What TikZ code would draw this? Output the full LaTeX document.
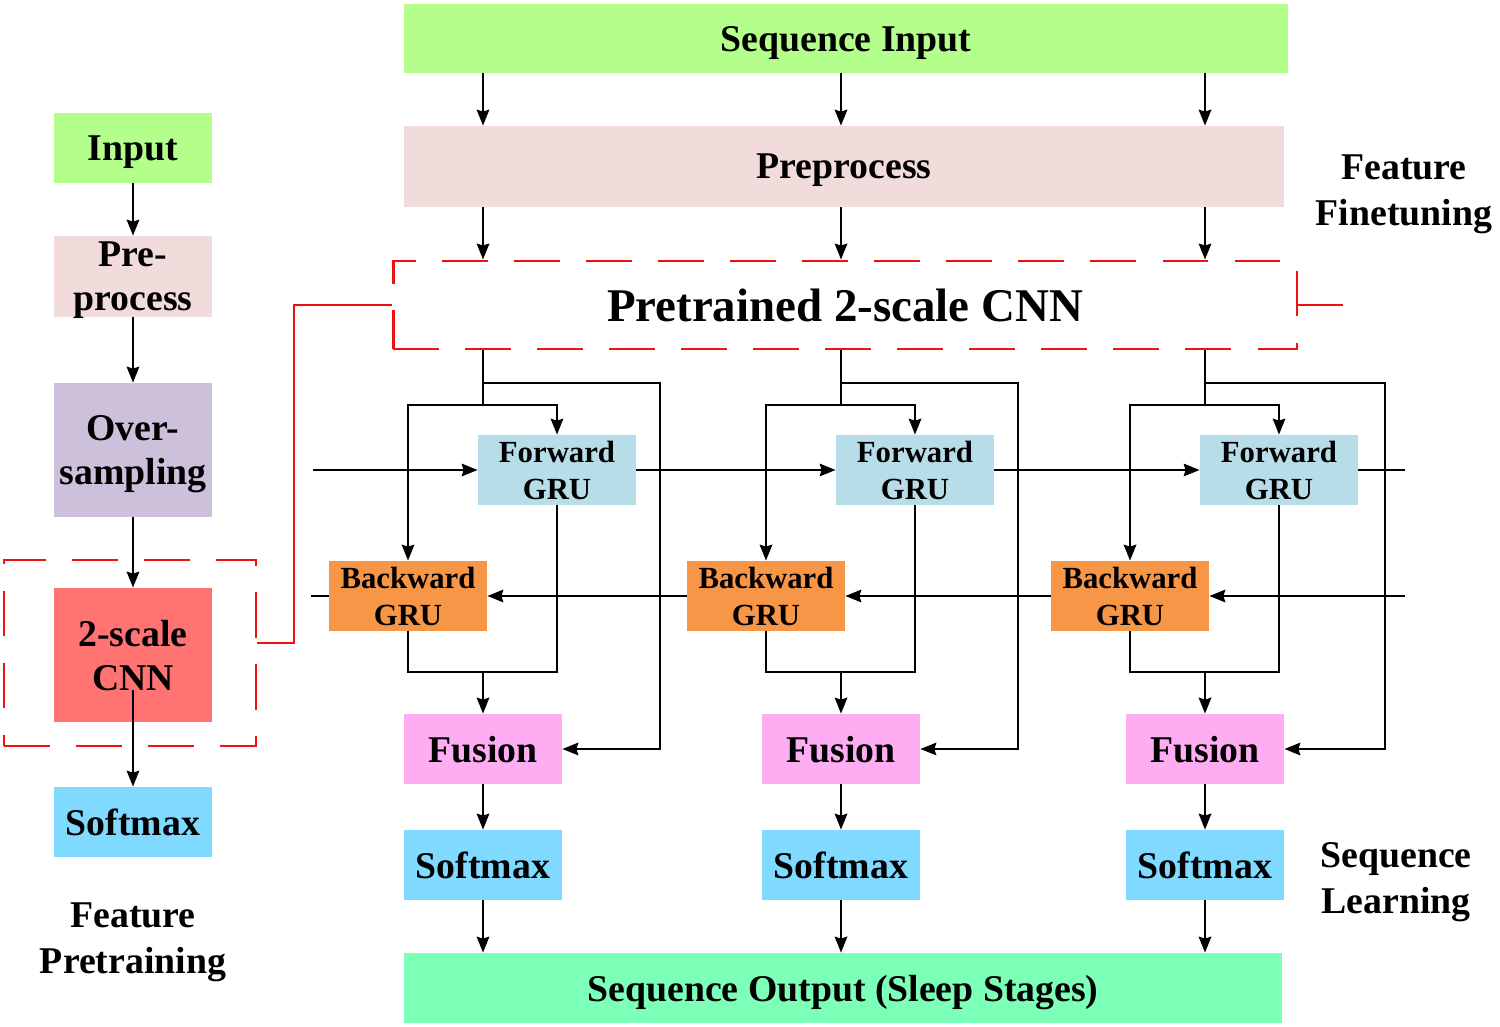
\documentclass[tikz,border=0pt]{standalone}
\usepackage{fontspec}
\setmainfont{Liberation Serif}
\usetikzlibrary{arrows.meta,calc}
\definecolor{cgreen}{HTML}{B4FF8C}
\definecolor{cpink}{HTML}{F2DCDB}
\definecolor{clav}{HTML}{CCC0DA}
\definecolor{ccnn}{HTML}{FF7373}
\definecolor{csoft}{HTML}{80DAFF}
\definecolor{cfwd}{HTML}{B7DEE8}
\definecolor{cbwd}{HTML}{F79646}
\definecolor{cfus}{HTML}{FFADF2}
\definecolor{cout}{HTML}{7CFFB6}
\definecolor{cred}{HTML}{EE1111}
\begin{document}
\begin{tikzpicture}[x=0.02cm,y=-0.02cm,
  box/.style={draw=none, inner sep=0pt, align=center, text depth=0pt, font=\bfseries\fontsize{21.5}{25}\selectfont},
  lbox/.style={box, minimum width=3.16cm, minimum height=1.4cm},
  gru/.style={box, minimum width=3.16cm, minimum height=1.4cm, font=\bfseries\fontsize{17.5}{21}\selectfont},
  side/.style={box, font=\bfseries\fontsize{21.5}{26.5}\selectfont},
  arr/.style={line width=1.6pt, -{Stealth[length=9pt,width=7pt,inset=1pt]}},
  ln/.style={line width=1.6pt},
  redl/.style={line width=1.6pt, draw=cred},
  reddash/.style={redl, dash pattern=on 26pt off 15pt},
]
\useasboundingbox (0,0) rectangle (1500,1027);

% main top blocks
\node[box, fill=cgreen, minimum width=17.68cm, minimum height=1.38cm] (seqin) at (846,38.5) {Sequence Input};
\node[box, fill=cpink, minimum width=17.6cm, minimum height=1.62cm] (prep) at (844,166.5) {Preprocess};
\node[box, reddash, minimum width=18.08cm, minimum height=1.76cm, font=\bfseries\fontsize{26.7}{30}\selectfont] (cnnbox) at (845,305) {Pretrained 2-scale CNN};
\node[box, fill=cout, minimum width=17.56cm, minimum height=1.4cm] (seqout) at (843,988) {Sequence Output (Sleep Stages)};

% left column
\node[lbox, fill=cgreen] (inp) at (133,148) {Input};
\node[lbox, fill=cpink, minimum height=1.62cm] (prepl) at (133,276.5) {Pre-\\process};
\node[lbox, fill=clav, minimum height=2.68cm] (over) at (133,450) {Over-\\sampling};
\node[lbox, fill=ccnn, minimum height=2.68cm] (cnn) at (133,655) {2-scale\\CNN};
\node[lbox, fill=csoft] (softl) at (133,822) {Softmax};
\node[reddash, minimum width=5.04cm, minimum height=3.72cm, inner sep=0pt] (small) at (130,653) {};
\coordinate (cnnin) at (133,690);

\draw[arr] (inp) -- (prepl);
\draw[arr] (prepl) -- (over);
\draw[arr] (over) -- (cnn);
\draw[arr] (cnnin) -- (softl.north);

% side labels
\node[side] (ff) at (1404,190) {Feature\\Finetuning};
\node[side] (sl) at (1396,878) {Sequence\\Learning};
\node[side] (fp) at (133,938) {Feature\\Pretraining};

% red connectors
\coordinate (rc) at (294,305);
\draw[redl] (cnnbox.west) -- (rc) |- ([yshift=0.2cm]small.east);
\coordinate (rstub) at (1343,305);
\draw[redl] (cnnbox.east) -- (rstub);

% columns
\foreach \c/\i/\br in {483/1/177,841/2/177,1205/3/180}{
  \coordinate (col\i) at (\c,0);
  \coordinate (b\i) at (\c,383);
  \coordinate (j\i) at (\c,405);
  \coordinate (m\i) at (\c,672);
  \node[gru, fill=cfwd] (fw\i) at (\c+74,470) {Forward\\GRU};
  \node[gru, fill=cbwd] (bw\i) at (\c-75,596) {Backward\\GRU};
  \node[lbox, fill=cfus] (fus\i) at (\c,749) {Fusion};
  \node[lbox, fill=csoft] (soft\i) at (\c,865) {Softmax};
  \draw[arr] (seqin.south -| col\i) -- (prep.north -| col\i);
  \draw[arr] (prep.south -| col\i) -- (cnnbox.north -| col\i);
  \draw[ln] (cnnbox.south -| col\i) -- (j\i);
  \draw[arr] (b\i) -- ++(\br,0) |- (fus\i.east);
  \draw[arr] (j\i) -| (fw\i.north);
  \draw[arr] (j\i) -| (bw\i.north);
  \draw[ln] (fw\i.south) |- (m\i) -| (bw\i.south);
  \draw[arr] (m\i) -- (fus\i.north);
  \draw[arr] (fus\i) -- (soft\i);
  \draw[arr] (soft\i.south) -- (seqout.north -| col\i);
}

% recurrent chains
\coordinate (fin) at (313,470);
\coordinate (fout) at (1405,470);
\coordinate (bin) at (1405,596);
\coordinate (bout) at (311,596);
\draw[arr] (fin) -- (fw1.west);
\draw[arr] (fw1.east) -- (fw2.west);
\draw[arr] (fw2.east) -- (fw3.west);
\draw[ln] (fw3.east) -- (fout);
\draw[arr] (bin) -- (bw3.east);
\draw[arr] (bw3.west) -- (bw2.east);
\draw[arr] (bw2.west) -- (bw1.east);
\draw[ln] (bw1.west) -- (bout);
\end{tikzpicture}
\end{document}
